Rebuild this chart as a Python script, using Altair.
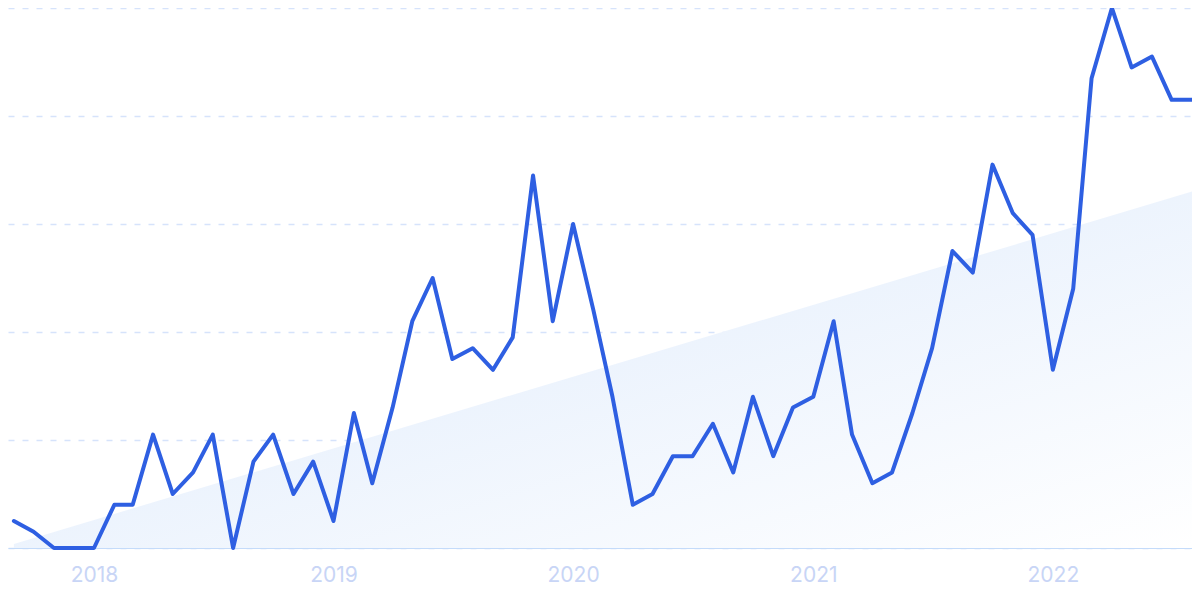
import altair as alt
import pandas as pd

# Monthly interest values, Sep 2017 .. Aug 2022
months = pd.date_range("2017-09-01", periods=60, freq="MS").strftime("%Y-%m-%d").tolist()
values = [5, 3, 0, 0, 0, 8, 8, 21, 10, 14,
          21, 0, 16, 21, 10, 16, 5, 25, 12, 26,
          42, 50, 35, 37, 33, 39, 69, 42, 60, 44,
          28, 8, 10, 17, 17, 23, 14, 28, 17, 26,
          28, 42, 21, 12, 14, 25, 37, 55, 51, 71,
          62, 58, 33, 48, 87, 100, 89, 91, 83, 83]

# Trend band endpoints
trend_dates = ["2017-09-01", "2022-08-01"]
trend_values = [0.75, 66]

year_ticks = [2018, 2019, 2020, 2021, 2022]
grid_values = [0, 20, 40, 60, 80, 100]

df = pd.DataFrame({"date": months, "value": values})
tf = pd.DataFrame({"date": trend_dates, "value": trend_values})

x_scale = alt.Scale(
    type="utc",
    domain=[alt.DateTime(year=2017, month=8, date=23, utc=True),
            alt.DateTime(year=2022, month=8, date=1, utc=True)],
)
y_scale = alt.Scale(domain=[0, 100], nice=False, zero=True)

x_axis = alt.Axis(
    values=[alt.DateTime(year=y, month=1, date=1, utc=True) for y in year_ticks],
    format="%Y",
    formatType="utc",
    title=None,
    ticks=False,
    grid=False,
    domain=True,
    domainColor="#c4dbfa",
    domainWidth=1.2,
    labelFont="Inter",
    labelFontSize=21,
    labelColor="#c8d5f6",
    labelPadding=16,
    labelFlush=False,
)
y_axis = alt.Axis(
    values=grid_values,
    labels=False,
    ticks=False,
    domain=False,
    title=None,
    grid=True,
    gridColor="#d6e3fb",
    gridDash=[6, 8],
    gridWidth=1.3,
)

area = alt.Chart(tf).mark_area(
    color=alt.Gradient(
        gradient="linear",
        stops=[alt.GradientStop(offset=0, color="#e2edfc"),
               alt.GradientStop(offset=1, color="#ffffff")],
        x1=0.2, y1=0.2, x2=1, y2=1,
    )
).encode(
    x=alt.X("date:T", scale=x_scale, axis=x_axis),
    y=alt.Y("value:Q", scale=y_scale, axis=y_axis),
)

line = alt.Chart(df).mark_line(
    color="#2e5fe2", strokeWidth=4, strokeJoin="round", strokeCap="round"
).encode(
    x=alt.X("date:T", scale=x_scale),
    y=alt.Y("value:Q", scale=y_scale),
)

chart = alt.layer(area, line).properties(
    width=1184,
    height=540,
    padding={"left": 0, "top": 0, "right": 0, "bottom": 40},
    autosize=alt.AutoSizeParams(type="none"),
    background="white",
).configure_view(stroke=None)

chart.save("out.html", embed_options={"renderer": "svg", "actions": False})
